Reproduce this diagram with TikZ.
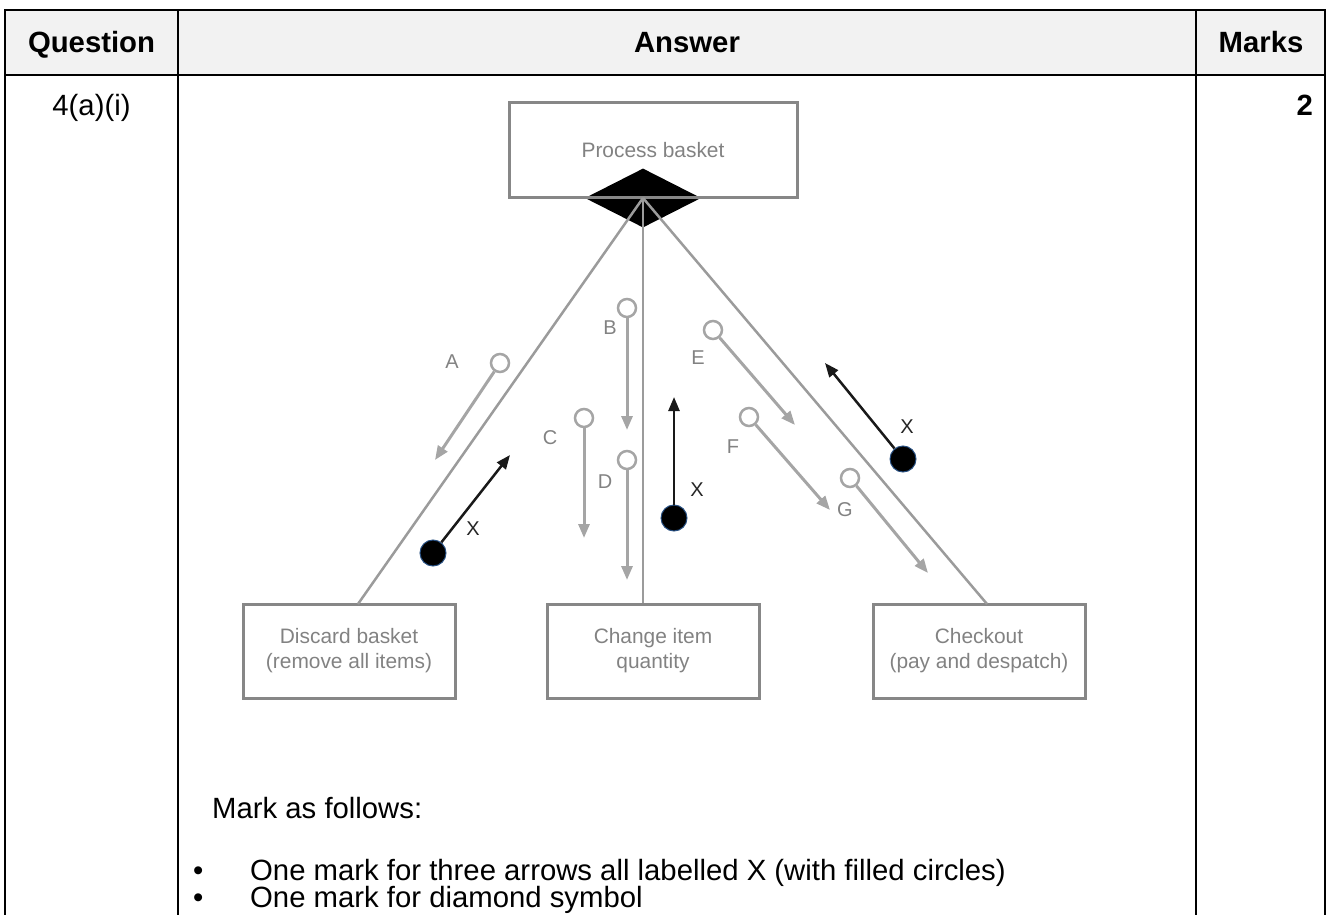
\documentclass[tikz,border=0pt]{standalone}
\usepackage{fontspec}
\setmainfont{Liberation Sans}
\usetikzlibrary{shapes.geometric,arrows.meta}
\definecolor{hdr}{RGB}{242,242,242}
\definecolor{boxgray}{RGB}{135,135,135}
\definecolor{linkgray}{RGB}{155,155,155}
\definecolor{txtgray}{RGB}{130,130,130}
\definecolor{argray}{RGB}{165,165,165}
\definecolor{ringblue}{RGB}{40,80,130}
\begin{document}
\begin{tikzpicture}[x=1pt,y=-1pt,
  tline/.style={line width=2pt,black},
  hdrtext/.style={font=\fontsize{29.3}{35}\selectfont\bfseries,anchor=base,inner sep=0},
  bodytext/.style={font=\fontsize{29.3}{35}\selectfont,anchor=base west,inner sep=0},
  gbox/.style={draw=boxgray,line width=3pt,minimum width=212pt,minimum height=94pt,inner sep=0,align=center,text=txtgray,font=\fontsize{20.9}{25}\selectfont},
  link/.style={draw=linkgray,line width=2.5pt},
  ocirc/.style={circle,draw=argray,line width=2.5pt,fill=white,minimum size=18pt,inner sep=0},
  fcirc/.style={circle,fill=black,draw=ringblue,line width=1pt,minimum size=26pt,inner sep=0},
  garrow/.style={draw=argray,line width=3pt,-{Triangle[length=14pt,width=11pt]}},
  xarrow/.style={draw=black!90,line width=2.5pt,-{Triangle[length=14pt,width=11pt]}},
  lbl/.style={text=txtgray,font=\fontsize{20}{24}\selectfont,inner sep=0},
  xlbl/.style={text=black!85,font=\fontsize{20}{24}\selectfont,inner sep=0},
]
\useasboundingbox (0,0) rectangle (1330,915);
% table
\fill[hdr] (5,10) rectangle (1325,75);
\draw[tline] (5,915) -- (5,10) -- (1325,10) -- (1325,915);
\draw[tline,line width=2.5pt] (5,75) -- (1325,75);
\draw[tline] (178,10) -- (178,915);
\draw[tline] (1196,10) -- (1196,915);
\node[hdrtext] (hq) at (91.5,53) {Question};
\node[hdrtext] (ha) at (687,53) {Answer};
\node[hdrtext] (hm) at (1261,53) {Marks};
\node[font=\fontsize{29.3}{35}\selectfont,anchor=base,inner sep=0] (qn) at (91.5,116) {4(a)(i)};
\node[font=\fontsize{29.3}{35}\selectfont\bfseries,anchor=base east,inner sep=0] (mk) at (1313,116) {2};
% diagram
\node[diamond,fill=black,minimum width=116pt,minimum height=59pt,inner sep=0] (dia) at (643,198) {};
\node[gbox,minimum width=288pt] (proc) at (653,150) {Process basket};
\node[gbox] (disc) at (349,651) {Discard basket\\(remove all items)};
\node[gbox] (chg) at (653,651) {Change item\\quantity};
\node[gbox] (chk) at (979,651) {Checkout\\(pay and despatch)};
\coordinate (hub) at (643,198);
\coordinate (lfoot) at (358,604);
\coordinate (rfoot) at (987,604);
\draw[link] (hub) -- (lfoot);
\draw[link] (hub) -- (chg.north -| hub);
\draw[link] (hub) -- (rfoot);
% gray option arrows
\node[ocirc] (ca) at (500,363) {};
\coordinate (ta) at (435,460);
\node[ocirc] (cb) at (627,308) {};
\coordinate (tb) at (627,430);
\node[ocirc] (cc) at (584,418) {};
\coordinate (tc) at (584,538);
\node[ocirc] (cd) at (627,460) {};
\coordinate (td) at (627,580);
\node[ocirc] (ce) at (713,330) {};
\coordinate (te) at (795,425);
\node[ocirc] (cf) at (749,417) {};
\coordinate (tf) at (830,510);
\node[ocirc] (cg) at (850,478) {};
\coordinate (tg) at (928,573);
\draw[garrow] (ca) -- (ta);
\draw[garrow] (cb) -- (tb);
\draw[garrow] (cc) -- (tc);
\draw[garrow] (cd) -- (td);
\draw[garrow] (ce) -- (te);
\draw[garrow] (cf) -- (tf);
\draw[garrow] (cg) -- (tg);
\node[lbl] (la) at (452,362) {A};
\node[lbl] (lb) at (610,328) {B};
\node[lbl] (lc) at (550,438) {C};
\node[lbl] (ld) at (605,482) {D};
\node[lbl] (le) at (698,358) {E};
\node[lbl] (lf) at (733,447) {F};
\node[lbl] (lg) at (845,510) {G};
% black X arrows
\node[fcirc] (x1) at (433,553) {};
\coordinate (t1) at (510,455);
\node[fcirc] (x2) at (674,518) {};
\coordinate (t2) at (674,397);
\node[fcirc] (x3) at (903,459) {};
\coordinate (t3) at (825,363);
\draw[xarrow] (x1) -- (t1);
\draw[xarrow] (x2) -- (t2);
\draw[xarrow] (x3) -- (t3);
\node[xlbl] (lx1) at (473,529) {X};
\node[xlbl] (lx2) at (697,490) {X};
\node[xlbl] (lx3) at (907,427) {X};
% marking text
\node[bodytext] (mf) at (212,818) {Mark as follows:};
\node[bodytext] (b1) at (193,880) {\textbullet};
\node[bodytext] (t1a) at (250,880) {One mark for three arrows all labelled X (with filled circles)};
\node[bodytext] (b2) at (193,907) {\textbullet};
\node[bodytext] (t2a) at (250,907) {One mark for diamond symbol};
\end{tikzpicture}
\end{document}
